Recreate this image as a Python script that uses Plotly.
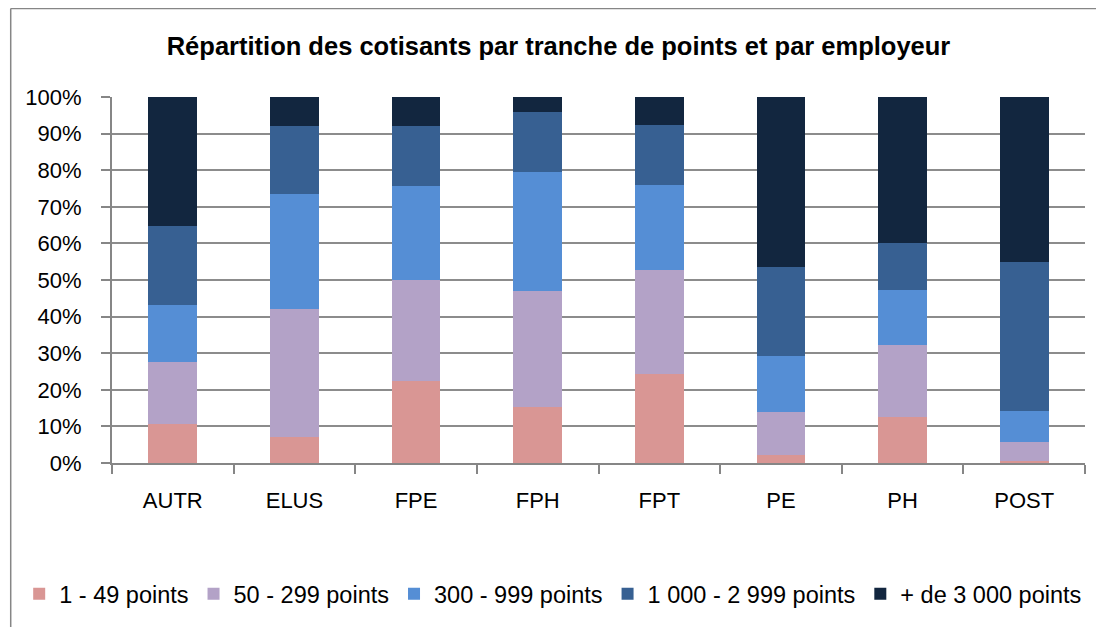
import plotly.graph_objects as go

categories = ["AUTR", "ELUS", "FPE", "FPH", "FPT", "PE", "PH", "POST"]
series_names = ["1 - 49 points", "50 - 299 points", "300 - 999 points",
                "1 000 - 2 999 points", "+ de 3 000 points"]
# percentages per employer, one list per series
s_1_49 = [10.6, 7.2, 22.3, 15.4, 24.2, 2.3, 12.7, 0.5]
s_50_299 = [16.9, 35.0, 27.7, 31.5, 28.5, 11.6, 19.5, 5.2]
s_300_999 = [15.7, 31.3, 25.7, 32.7, 23.3, 15.3, 15.0, 8.4]
s_1000_2999 = [21.6, 18.6, 16.4, 16.4, 16.3, 24.4, 12.8, 40.9]
s_3000_plus = [35.2, 7.9, 7.9, 4.0, 7.7, 46.4, 40.0, 45.0]
colors = ["#D99694", "#B3A2C7", "#558ED5", "#376092", "#12263F"]

series = [s_1_49, s_50_299, s_300_999, s_1000_2999, s_3000_plus]

# page offset (browser body margin on every side) -> keep figure inside the window
OFF = 8
W, H = 1104 - 2 * OFF, 635 - 2 * OFF
L, T = 110 - OFF, 97 - OFF
R = W + OFF - 1085
B = H + OFF - 463
pw, ph = W - L - R, H - T - B

fig = go.Figure()
for name, vals, col in zip(series_names, series, colors):
    fig.add_trace(go.Bar(
        x=categories, y=[v / 100 for v in vals], name=name,
        marker=dict(color=col, line=dict(width=0)),
    ))

def cx(px):
    return (px - OFF) / W

def cy(py):
    return 1 - (py - OFF) / H

def px2x(px):
    return (px - OFF - L) / pw

def py2y(py):
    return (H + OFF - B - py) / ph

fig.update_layout(
    width=W, height=H,
    margin=dict(l=L, r=R, t=T, b=B),
    barmode="stack", bargap=0.6,
    paper_bgcolor="white", plot_bgcolor="white",
    font=dict(family="Liberation Sans", color="black", size=22),
    title=dict(text="<b>Répartition des cotisants par tranche de points et par employeur</b>",
               font=dict(family="Liberation Sans", size=25.5, color="black"),
               x=cx(558.5), xanchor="center", xref="container",
               y=cy(46.5), yanchor="middle", yref="container"),
    showlegend=True,
    legend=dict(orientation="h", xref="paper", yref="paper",
                x=px2x(17), xanchor="left", y=py2y(594), yanchor="middle",
                font=dict(size=23.5, family="Liberation Sans", color="black"),
                bgcolor="rgba(0,0,0,0)", borderwidth=0,
                traceorder="normal", itemclick=False),
    xaxis=dict(showline=True, linecolor="#868686", linewidth=2,
               ticks="outside", ticklen=9, tickcolor="#868686", tickwidth=2,
               tickson="boundaries", showgrid=False,
               tickfont=dict(size=22), ticklabelstandoff=17),
    yaxis=dict(range=[0, 1], dtick=0.1, tickformat=".0%",
               showline=True, linecolor="#868686", linewidth=2,
               ticks="outside", ticklen=9, tickcolor="#868686", tickwidth=2,
               showgrid=True, gridcolor="#8c8c8c", gridwidth=1.7,
               zeroline=False, tickfont=dict(size=22), ticklabelstandoff=15),
)

# outer chart border (only top and left edges are inside the window)
fig.add_shape(type="line", xref="paper", yref="paper",
              x0=px2x(8.5), x1=px2x(1104), y0=py2y(8.5), y1=py2y(8.5),
              line=dict(color="#868686", width=1.5), layer="above")
fig.add_shape(type="line", xref="paper", yref="paper",
              x0=px2x(8.5), x1=px2x(8.5), y0=py2y(8.5), y1=py2y(635),
              line=dict(color="#868686", width=1.5), layer="above")

fig.write_html("out.html")
